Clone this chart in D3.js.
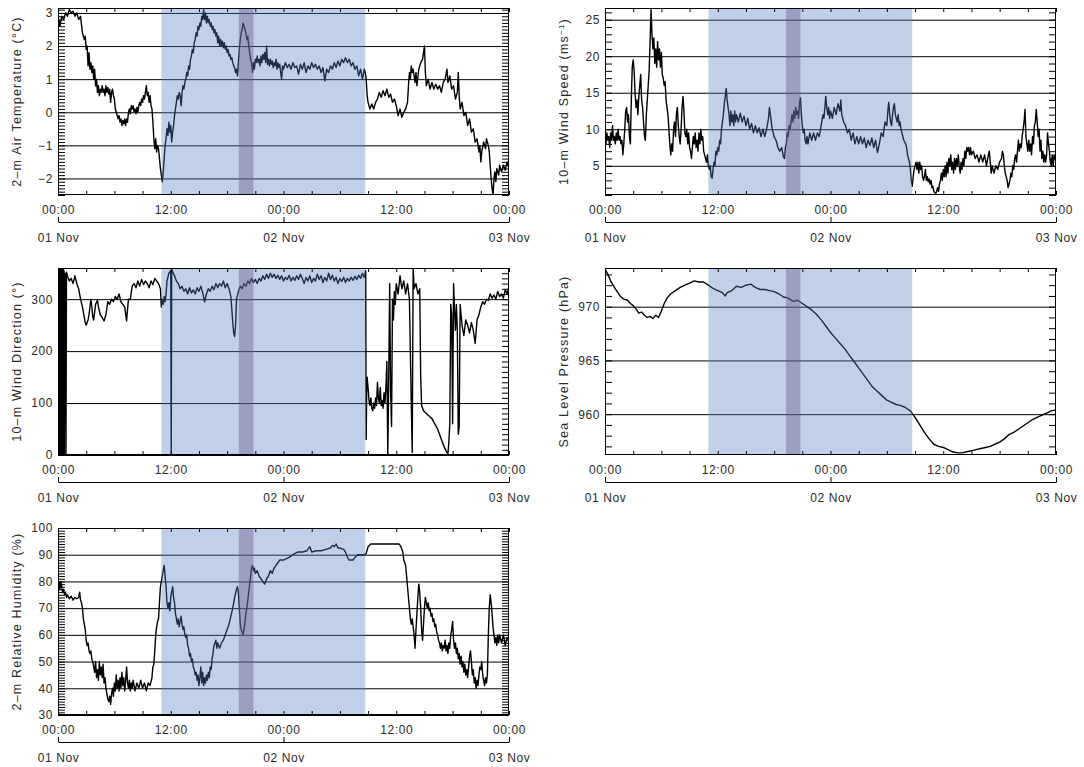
<!DOCTYPE html>
<html><head><meta charset="utf-8">
<script src="https://cdn.jsdelivr.net/npm/d3@7"></script>
<style>
body{margin:0;background:#fff}
text{font-family:"Liberation Sans",Arial,sans-serif;fill:#2a2a2a}
</style>
</head><body><svg id="c" width="1084" height="767"></svg>
<script>
// ---------------- data (hours since 01 Nov 00:00, value) ----------------
const timeTickLabels = ["00:00","12:00","00:00","12:00","00:00"];
const timeTickHours = [0,12,24,36,48];
const dateTickLabels = ["01 Nov","02 Nov","03 Nov"];
const dateTickHours = [0,24,48];
const shadeHours = [11.0, 32.7];
const darkHours = [19.25, 20.8];

const tempTicks = [-2,-1,0,1,2,3];
const windTicks = [5,10,15,20,25];
const dirTicks = [0,100,200,300];
const presTicks = [960,965,970];
const rhTicks = [30,40,50,60,70,80,90,100];

const tempDomain = [-2.5, 3.15];
const windDomain = [1.0, 26.6];
const dirDomain = [0, 360];
const presDomain = [956.2, 973.6];
const rhDomain = [30, 100];

const tempData = [[0,2.5],[0.1,2.8],[0.2,2.6],[0.4,2.9],[0.6,2.8],[0.8,3.0],[1.0,2.9],[1.2,3.1],[1.4,3.0],[1.6,3.05],[1.8,2.9],[2.0,3.0],[2.2,2.8],[2.4,2.9],[2.6,2.4],[2.8,2.2],[2.9,2.3],[3.0,1.9],[3.1,2.0],[3.2,1.4],[3.3,1.8],[3.4,1.3],[3.5,1.5],[3.6,1.2],[3.7,1.4],[3.8,1.0],[3.9,1.3],[4.0,0.8],[4.1,1.0],[4.2,0.6],[4.3,0.8],[4.4,0.5],[4.5,0.7],[4.6,0.6],[4.7,0.8],[4.8,0.6],[4.9,0.7],[5.0,0.5],[5.1,0.8],[5.2,0.6],[5.3,0.75],[5.4,0.55],[5.5,0.7],[5.6,0.3],[5.7,0.6],[5.8,0.7],[5.9,0.5],[6.0,0.4],[6.1,0.1],[6.2,0.0],[6.3,-0.1],[6.4,-0.2],[6.5,-0.1],[6.6,-0.3],[6.7,-0.2],[6.8,-0.4],[6.9,-0.25],[7.0,-0.35],[7.1,-0.2],[7.2,-0.4],[7.3,-0.2],[7.4,-0.3],[7.5,0.0],[7.6,0.1],[7.7,-0.05],[7.8,0.2],[7.9,0.1],[8.0,0.2],[8.1,0.0],[8.2,0.1],[8.3,-0.05],[8.4,0.15],[8.5,0.0],[8.6,0.2],[8.7,0.3],[8.8,0.2],[8.9,0.4],[9.0,0.3],[9.1,0.5],[9.2,0.4],[9.3,0.6],[9.4,0.8],[9.5,0.5],[9.6,0.6],[9.7,0.3],[9.8,0.5],[9.9,0.2],[10.0,0.1],[10.1,-0.3],[10.2,-0.8],[10.3,-1.1],[10.4,-0.8],[10.5,-1.2],[10.6,-1.0],[10.7,-1.1],[10.8,-1.4],[10.9,-1.7],[11.0,-1.9],[11.1,-2.1],[11.2,-1.8],[11.3,-1.4],[11.4,-1.0],[11.5,-0.8],[11.6,-0.5],[11.7,-0.7],[11.8,-0.3],[11.9,-0.6],[12.0,-0.4],[12.1,-0.9],[12.2,-0.6],[12.3,-0.4],[12.4,-0.1],[12.5,0.1],[12.6,0.3],[12.7,0.5],[12.8,0.4],[12.9,0.6],[13.0,0.5],[13.1,0.2],[13.2,0.6],[13.3,0.8],[13.4,0.7],[13.5,0.9],[13.6,1.0],[13.7,1.2],[13.8,1.1],[13.9,1.4],[14.0,1.3],[14.1,1.6],[14.2,1.7],[14.3,1.9],[14.4,1.8],[14.5,2.1],[14.6,2.2],[14.7,2.4],[14.8,2.3],[14.9,2.6],[15.0,2.5],[15.1,2.7],[15.2,2.6],[15.3,2.9],[15.4,2.8],[15.5,3.1],[15.6,2.8],[15.7,3.0],[15.8,2.7],[15.9,2.9],[16.0,2.7],[16.1,2.8],[16.2,2.6],[16.3,2.7],[16.4,2.5],[16.5,2.6],[16.6,2.4],[16.7,2.5],[16.8,2.3],[16.9,2.4],[17.0,2.1],[17.1,2.3],[17.2,2.0],[17.3,2.2],[17.4,2.0],[17.5,2.15],[17.6,1.95],[17.7,2.1],[17.8,1.9],[17.9,2.0],[18.0,1.8],[18.1,1.9],[18.2,1.7],[18.3,1.75],[18.4,1.6],[18.5,1.65],[18.6,1.5],[18.7,1.4],[18.8,1.35],[18.9,1.2],[19.0,1.3],[19.1,1.1],[19.2,1.5],[19.3,1.9],[19.4,2.2],[19.5,2.4],[19.6,2.5],[19.7,2.7],[19.8,2.6],[19.9,2.5],[20.0,2.4],[20.1,2.2],[20.2,2.3],[20.3,2.0],[20.4,1.8],[20.5,1.6],[20.6,1.5],[20.7,1.2],[20.8,1.5],[20.9,1.3],[21.0,1.6],[21.1,1.5],[21.2,1.7],[21.3,1.5],[21.4,1.6],[21.5,1.4],[21.6,1.7],[21.7,1.5],[21.8,1.75],[21.9,1.6],[22.0,1.8],[22.1,1.5],[22.2,2.0],[22.3,1.45],[22.4,1.6],[22.5,1.4],[22.6,1.6],[22.7,1.45],[22.8,1.55],[22.9,1.35],[23.0,1.5],[23.1,1.4],[23.2,1.6],[23.3,1.3],[23.4,1.5],[23.5,1.35],[23.6,1.45],[23.7,1.2],[23.8,1.0],[23.9,1.4],[24.0,1.3],[24.2,1.5],[24.4,1.35],[24.6,1.45],[24.8,1.3],[25.0,1.5],[25.2,1.35],[25.4,1.4],[25.6,1.15],[25.8,1.45],[26.0,1.3],[26.2,1.5],[26.4,1.2],[26.6,1.4],[26.8,1.3],[27.0,1.5],[27.2,1.35],[27.4,1.45],[27.6,1.3],[27.8,1.4],[28.0,1.2],[28.2,1.35],[28.4,0.95],[28.6,1.3],[28.8,1.2],[29.0,1.4],[29.2,1.3],[29.4,1.5],[29.6,1.35],[29.8,1.55],[30.0,1.4],[30.2,1.6],[30.4,1.5],[30.6,1.65],[30.8,1.5],[31.0,1.6],[31.2,1.4],[31.4,1.5],[31.6,1.3],[31.8,1.4],[32.0,1.1],[32.2,1.3],[32.4,1.0],[32.6,1.3],[32.7,1.2],[32.8,1.0],[32.9,0.5],[33.0,0.3],[33.2,0.1],[33.4,0.25],[33.6,0.1],[33.8,0.3],[34.0,0.4],[34.2,0.6],[34.4,0.45],[34.6,0.65],[34.8,0.5],[35.0,0.7],[35.2,0.45],[35.4,0.55],[35.6,0.3],[35.8,0.4],[36.0,0.2],[36.2,-0.1],[36.4,0.1],[36.6,-0.15],[36.8,0.0],[37.0,0.1],[37.2,0.3],[37.3,0.8],[37.4,1.2],[37.5,1.0],[37.6,1.4],[37.7,1.2],[37.8,1.3],[38.0,0.9],[38.1,1.2],[38.2,0.8],[38.4,1.3],[38.6,1.5],[38.8,1.6],[38.9,1.8],[39.0,2.0],[39.1,1.2],[39.2,0.8],[39.4,1.0],[39.6,0.7],[39.8,0.9],[40.0,0.7],[40.2,0.85],[40.4,0.7],[40.6,0.8],[40.8,0.6],[41.0,0.9],[41.2,1.0],[41.4,1.3],[41.5,0.9],[41.7,1.1],[41.9,0.7],[42.1,0.8],[42.3,0.4],[42.5,0.6],[42.6,1.2],[42.7,0.5],[42.8,0.1],[43.0,0.3],[43.2,-0.1],[43.4,0.0],[43.6,-0.4],[43.8,-0.2],[44.0,-0.6],[44.2,-0.5],[44.4,-0.9],[44.6,-0.8],[44.8,-1.2],[44.9,-1.0],[45.0,-1.5],[45.1,-1.2],[45.3,-0.9],[45.5,-1.1],[45.6,-0.8],[45.8,-1.0],[45.9,-1.2],[46.0,-1.6],[46.1,-2.0],[46.2,-2.3],[46.3,-2.5],[46.4,-2.0],[46.5,-1.8],[46.6,-2.1],[46.7,-1.7],[46.9,-1.9],[47.0,-1.6],[47.2,-1.8],[47.4,-1.6],[47.6,-1.75],[47.8,-1.5],[48.0,-1.7]];

const windData = [[0,9],[0.1,8],[0.2,9.5],[0.3,8.5],[0.4,9],[0.5,7.5],[0.6,9.5],[0.7,8.5],[0.8,10.5],[0.9,8.5],[1.0,9],[1.1,8],[1.2,9.5],[1.3,8.5],[1.4,10],[1.5,8.5],[1.6,9],[1.7,8],[1.8,8.5],[1.9,6.5],[2.0,8],[2.1,10],[2.2,12.5],[2.3,13],[2.4,11],[2.5,12],[2.6,9],[2.7,8],[2.8,14],[2.9,18.5],[3.0,19.5],[3.1,18],[3.2,15],[3.3,13],[3.4,14],[3.5,12],[3.6,14.5],[3.7,16],[3.8,17.5],[3.9,14],[4.0,13],[4.1,11],[4.2,9],[4.3,8.5],[4.4,12],[4.5,14],[4.6,16],[4.7,18],[4.8,22],[4.9,26.4],[5.0,23],[5.1,21],[5.2,22.5],[5.3,19],[5.4,21],[5.5,18.5],[5.6,22],[5.7,19.5],[5.8,21],[5.9,18.5],[6.0,20.5],[6.1,17.5],[6.2,17],[6.3,16],[6.4,16.5],[6.5,14],[6.6,13],[6.7,12],[6.8,10],[6.9,8],[7.0,6.5],[7.1,8],[7.2,7],[7.3,10],[7.4,11],[7.5,9],[7.6,12],[7.7,13],[7.8,10.5],[7.9,9],[8.0,8],[8.1,10],[8.2,13],[8.3,14.5],[8.4,12.5],[8.5,9.5],[8.6,9],[8.7,10],[8.8,8],[8.9,9.5],[9.0,7.5],[9.1,7],[9.2,6],[9.3,7.5],[9.4,9],[9.5,8],[9.6,9.5],[9.7,7.5],[9.8,8.5],[9.9,7],[10.0,9.5],[10.1,8],[10.2,10],[10.3,8.5],[10.4,9],[10.5,7],[10.6,6.5],[10.7,6],[10.8,5.5],[10.9,6.5],[11.0,5],[11.1,4.5],[11.2,5],[11.3,3.5],[11.4,3.3],[11.5,4.5],[11.6,5.5],[11.7,5],[11.8,7],[11.9,6.5],[12.0,7.5],[12.1,7],[12.2,8.5],[12.3,8],[12.4,10],[12.5,11],[12.6,12],[12.7,13.5],[12.8,14.5],[12.9,15.6],[13.0,14],[13.1,13],[13.2,12],[13.3,10.5],[13.4,12.5],[13.5,11],[13.6,12],[13.7,10.5],[13.8,12.5],[13.9,11],[14.0,12],[14.2,11],[14.4,12.2],[14.6,11],[14.8,11.8],[15.0,10.5],[15.2,11.5],[15.4,10],[15.6,10.8],[15.8,9.5],[16.0,10.5],[16.2,9.5],[16.4,10.2],[16.6,9],[16.8,10],[17.0,9],[17.2,10],[17.4,11.5],[17.5,13],[17.6,12],[17.7,11],[17.8,10],[17.9,9.5],[18.0,9],[18.2,8.5],[18.4,7.5],[18.6,7],[18.8,7.5],[19.0,6.2],[19.1,6],[19.2,7.5],[19.3,8],[19.4,9.5],[19.5,9],[19.6,10.5],[19.7,10],[19.8,11],[19.9,12],[20.0,11],[20.1,12.5],[20.2,11.5],[20.3,13],[20.4,12],[20.5,12.5],[20.6,11.5],[20.7,13.5],[20.8,14.3],[20.9,12],[21.0,10.5],[21.1,9.5],[21.2,10],[21.3,8.5],[21.4,8],[21.5,9],[21.6,8],[21.8,9.5],[22.0,8.5],[22.2,9.5],[22.4,8.5],[22.6,9.5],[22.8,9],[23.0,10.5],[23.2,12],[23.3,11.5],[23.4,13],[23.5,14.5],[23.6,13],[23.7,12],[23.8,13],[23.9,11.5],[24.0,12.5],[24.2,11.5],[24.4,13],[24.6,12],[24.8,13.5],[25.0,12.5],[25.1,14],[25.2,12],[25.4,11],[25.6,10.5],[25.8,9.5],[26.0,10],[26.2,8.5],[26.4,9.5],[26.6,8],[26.8,9],[27.0,8],[27.2,9],[27.4,8],[27.6,8.8],[27.8,7.5],[28.0,8.5],[28.2,7.8],[28.4,8.8],[28.6,7.5],[28.8,8.5],[29.0,6.8],[29.2,8],[29.4,9.5],[29.6,9],[29.8,11],[30.0,10.5],[30.1,12.5],[30.2,13.7],[30.3,12],[30.4,11],[30.5,10.5],[30.6,12],[30.7,13],[30.8,13.5],[30.9,12],[31.0,11.5],[31.1,11],[31.2,12],[31.3,10.5],[31.4,11],[31.5,10],[31.6,9.5],[31.8,8.5],[32.0,8],[32.1,7.5],[32.2,6.5],[32.3,6],[32.4,5.5],[32.5,4.5],[32.6,3],[32.7,2.2],[32.8,3.5],[32.9,4.5],[33.0,5],[33.1,5.5],[33.2,4.5],[33.3,5.5],[33.4,4],[33.5,5.5],[33.6,4.5],[33.7,5],[33.8,3.5],[33.9,3],[34.0,3.5],[34.1,4.5],[34.2,3],[34.3,3.5],[34.4,2.8],[34.5,3.2],[34.6,2.5],[34.7,3],[34.8,2],[34.9,2.2],[35.0,1.5],[35.1,1.3],[35.2,1.2],[35.3,1.5],[35.4,2],[35.5,1.5],[35.6,2.5],[35.7,3],[35.8,4],[35.9,3],[36.0,4.5],[36.1,3.5],[36.2,5],[36.3,3.5],[36.4,5.5],[36.5,4],[36.6,6],[36.7,5],[36.8,6.5],[36.9,4.5],[37.0,5.5],[37.1,4],[37.2,6],[37.3,4.5],[37.4,6],[37.5,5],[37.6,6.5],[37.7,5],[37.8,4],[37.9,5.5],[38.0,4.5],[38.1,6],[38.2,5],[38.3,7],[38.4,6],[38.5,7.5],[38.6,7],[38.7,7.5],[38.8,6.5],[38.9,7.5],[39.0,6.5],[39.2,7],[39.4,6],[39.6,6.5],[39.8,5.5],[40.0,6.5],[40.2,5.5],[40.4,6.5],[40.6,5],[40.8,6.5],[40.9,7],[41.0,5.5],[41.1,4],[41.2,5],[41.4,4],[41.6,5],[41.8,4.5],[42.0,5.5],[42.2,6],[42.3,7],[42.4,6.5],[42.5,5],[42.6,4],[42.7,3.5],[42.8,3],[42.9,2],[43.0,2.5],[43.1,3],[43.2,4],[43.3,3.5],[43.4,5],[43.5,4.5],[43.6,6],[43.7,6.5],[43.8,5.5],[43.9,7],[44.0,8.5],[44.1,7],[44.2,8],[44.3,7.5],[44.4,9],[44.5,10],[44.6,11],[44.7,12.7],[44.8,9],[44.9,8],[45.0,7],[45.1,8.5],[45.2,7],[45.3,8],[45.4,6.5],[45.5,9],[45.6,8],[45.7,10.5],[45.8,11],[45.9,12.7],[46.0,11],[46.1,9],[46.2,10],[46.3,7],[46.4,8.5],[46.5,6],[46.6,7],[46.7,5.5],[46.8,6.5],[46.9,5.5],[47.0,6.5],[47.1,9.5],[47.2,8],[47.3,7],[47.4,5.5],[47.5,5],[47.6,6.5],[47.7,5],[47.8,6.5],[47.9,6],[48.0,7]];

const dirData = [[0,360],[0.04,0],[0.08,360],[0.12,0],[0.16,358],[0.2,0],[0.24,360],[0.28,0],[0.32,355],[0.36,0],[0.4,360],[0.44,0],[0.48,358],[0.52,0],[0.56,360],[0.6,0],[0.64,355],[0.68,0],[0.72,350],[0.8,345],[0.85,0],[0.9,352],[1.0,345],[1.2,335],[1.4,340],[1.6,330],[1.8,345],[2.0,330],[2.2,320],[2.4,300],[2.6,285],[2.8,265],[2.9,255],[3.0,250],[3.2,260],[3.3,270],[3.5,300],[3.6,285],[3.7,265],[3.8,260],[4.0,290],[4.2,298],[4.3,285],[4.5,270],[4.7,265],[4.9,258],[5.1,270],[5.3,295],[5.5,290],[5.7,300],[5.9,295],[6.1,305],[6.3,300],[6.5,310],[6.7,295],[6.9,290],[7.1,285],[7.3,258],[7.4,280],[7.5,300],[7.7,300],[7.9,325],[8.1,330],[8.3,322],[8.5,335],[8.7,325],[8.9,338],[9.1,328],[9.3,335],[9.5,330],[9.7,322],[9.9,335],[10.1,328],[10.3,340],[10.5,335],[10.7,330],[10.9,320],[11.0,285],[11.1,300],[11.2,290],[11.3,305],[11.4,295],[11.5,310],[11.6,335],[11.8,350],[12.0,355],[12.05,0],[12.1,360],[12.2,352],[12.4,345],[12.6,335],[12.8,330],[13.0,320],[13.2,325],[13.4,315],[13.6,320],[13.8,310],[14.0,322],[14.2,312],[14.4,318],[14.6,310],[14.8,322],[15.0,315],[15.2,325],[15.4,312],[15.6,295],[15.8,310],[16.0,320],[16.2,315],[16.4,325],[16.6,318],[16.8,330],[17.0,322],[17.2,330],[17.4,325],[17.6,335],[17.8,322],[18.0,330],[18.2,320],[18.4,305],[18.5,280],[18.6,255],[18.7,235],[18.8,228],[18.9,250],[19.0,300],[19.2,315],[19.4,325],[19.6,320],[19.8,330],[20.0,325],[20.2,335],[20.4,330],[20.6,340],[20.8,332],[21.0,338],[21.2,330],[21.4,340],[21.6,335],[21.8,345],[22.0,338],[22.2,348],[22.4,340],[22.6,350],[22.8,342],[23.0,348],[23.2,340],[23.4,346],[23.6,338],[23.8,345],[24.0,335],[24.2,342],[24.4,338],[24.6,346],[24.8,335],[25.0,342],[25.2,336],[25.4,345],[25.6,338],[25.8,348],[26.0,340],[26.2,330],[26.4,342],[26.6,335],[26.8,345],[27.0,332],[27.2,340],[27.4,335],[27.6,348],[27.8,338],[28.0,345],[28.2,332],[28.4,342],[28.6,335],[28.8,350],[29.0,338],[29.2,346],[29.4,335],[29.6,342],[29.8,330],[30.0,340],[30.2,334],[30.4,342],[30.6,332],[30.8,340],[31.0,335],[31.2,342],[31.4,336],[31.6,344],[31.8,338],[32.0,346],[32.2,340],[32.4,350],[32.6,342],[32.75,355],[32.8,30],[32.85,120],[32.9,150],[33.0,130],[33.1,105],[33.2,95],[33.3,110],[33.4,90],[33.5,85],[33.6,100],[33.7,90],[33.8,110],[33.9,95],[34.0,140],[34.1,110],[34.2,100],[34.3,130],[34.4,95],[34.5,105],[34.6,90],[34.7,120],[34.8,100],[34.9,130],[35.0,180],[35.1,0],[35.2,150],[35.3,330],[35.4,120],[35.5,55],[35.6,300],[35.7,260],[35.8,315],[35.9,290],[36.0,330],[36.2,310],[36.4,345],[36.6,320],[36.8,335],[37.0,310],[37.2,330],[37.4,300],[37.5,200],[37.6,100],[37.7,5],[37.8,360],[37.9,320],[38.1,330],[38.3,310],[38.5,320],[38.6,150],[38.7,95],[38.9,85],[39.2,80],[39.5,75],[39.8,70],[40.1,60],[40.4,50],[40.7,35],[41.0,20],[41.3,8],[41.5,2],[41.6,25],[41.7,60],[41.8,290],[41.9,270],[42.0,60],[42.1,330],[42.2,280],[42.3,240],[42.4,290],[42.5,240],[42.6,40],[42.7,55],[42.8,290],[42.9,270],[43.0,250],[43.2,230],[43.4,260],[43.6,250],[43.8,235],[44.0,255],[44.2,240],[44.4,215],[44.6,260],[44.8,270],[45.0,285],[45.2,295],[45.4,290],[45.6,300],[45.8,298],[46.0,310],[46.2,302],[46.4,308],[46.6,300],[46.8,315],[47.0,305],[47.2,310],[47.4,302],[47.6,318],[47.8,310],[48.0,325]];

const presData = [[0,973.5],[0.3,973.0],[0.6,972.4],[1.0,971.8],[1.3,971.4],[1.6,971.0],[2.0,970.7],[2.4,970.6],[2.7,970.3],[3.0,970.1],[3.3,969.8],[3.6,969.4],[3.9,969.5],[4.2,969.2],[4.5,969.0],[4.8,969.1],[5.1,968.9],[5.4,969.2],[5.7,969.0],[6.0,969.6],[6.3,970.3],[6.6,970.8],[7.0,971.2],[7.5,971.5],[8.0,971.8],[8.5,972.0],[9.0,972.2],[9.5,972.4],[10.0,972.3],[10.5,972.3],[11.0,972.0],[11.5,971.7],[12.0,971.5],[12.5,971.3],[12.8,971.0],[13.0,971.3],[13.5,971.5],[14.0,971.9],[14.5,971.8],[15.0,972.0],[15.5,972.1],[16.0,971.8],[16.5,971.6],[17.0,971.6],[17.5,971.5],[18.0,971.4],[18.5,971.2],[19.0,970.9],[19.5,970.8],[20.0,970.5],[20.5,970.6],[21.0,970.3],[21.5,970.0],[22.0,969.7],[22.5,969.3],[23.0,968.8],[23.5,968.2],[24.0,967.6],[24.5,967.1],[25.0,966.6],[25.5,966.1],[26.0,965.5],[26.5,964.9],[27.0,964.3],[27.5,963.7],[28.0,963.1],[28.5,962.5],[29.0,962.1],[29.5,961.7],[30.0,961.3],[30.5,961.1],[31.0,960.9],[31.5,960.8],[32.0,960.6],[32.5,960.3],[33.0,959.7],[33.5,959.0],[34.0,958.3],[34.5,957.7],[35.0,957.2],[35.5,957.0],[36.0,956.9],[36.5,956.7],[37.0,956.5],[37.5,956.4],[38.0,956.4],[38.5,956.5],[39.0,956.6],[39.5,956.7],[40.0,956.8],[40.5,956.9],[41.0,957.0],[41.5,957.2],[42.0,957.4],[42.5,957.7],[43.0,958.1],[43.5,958.3],[44.0,958.6],[44.5,958.9],[45.0,959.2],[45.5,959.5],[46.0,959.7],[46.5,959.9],[47.0,960.1],[47.5,960.3],[48.0,960.4]];

const rhData = [[0,78],[0.1,80],[0.2,77],[0.3,80],[0.4,78],[0.5,76],[0.6,77],[0.7,75],[0.8,76],[0.9,74],[1.0,75],[1.2,73.5],[1.4,74.5],[1.6,73],[1.8,74],[2.0,73.5],[2.2,74],[2.3,76],[2.4,73],[2.5,72],[2.6,70],[2.7,66],[2.8,64],[2.9,62],[3.0,58],[3.1,56],[3.2,57],[3.3,54],[3.4,53],[3.5,54],[3.6,51],[3.7,50],[3.8,48],[3.9,46],[4.0,50],[4.1,44],[4.2,47],[4.3,43],[4.4,50],[4.5,45],[4.6,48],[4.7,44],[4.8,49],[4.9,42],[5.0,44],[5.1,40],[5.2,38],[5.3,36],[5.4,35],[5.5,37],[5.6,34],[5.7,38],[5.8,40],[5.9,37],[6.0,42],[6.1,39],[6.2,45],[6.3,40],[6.4,43],[6.5,39],[6.6,44],[6.7,40],[6.8,46],[6.9,41],[7.0,44],[7.1,39],[7.2,43],[7.3,48],[7.4,42],[7.5,40],[7.6,43],[7.7,39],[7.8,42],[7.9,40],[8.0,43],[8.2,39],[8.4,42],[8.6,40],[8.8,43],[9.0,40],[9.2,42],[9.4,39],[9.6,42],[9.8,41],[10.0,44],[10.1,48],[10.2,49],[10.3,54],[10.4,60],[10.5,63],[10.6,65],[10.7,66],[10.8,72],[10.9,78],[11.0,80],[11.1,82],[11.2,84],[11.3,86],[11.4,82],[11.5,78],[11.6,72],[11.7,70],[11.8,72],[11.9,69],[12.0,74],[12.1,76],[12.2,78],[12.3,74],[12.4,72],[12.5,68],[12.6,66],[12.7,64],[12.8,66],[12.9,63],[13.0,65],[13.1,67],[13.2,64],[13.3,62],[13.4,63],[13.5,60],[13.6,59],[13.7,60],[13.8,56],[13.9,55],[14.0,52],[14.1,53],[14.2,50],[14.3,51],[14.4,48],[14.5,47],[14.6,45],[14.7,46],[14.8,43],[14.9,45],[15.0,41],[15.1,44],[15.2,48],[15.3,42],[15.4,46],[15.5,41],[15.6,44],[15.7,42],[15.8,45],[15.9,43],[16.0,46],[16.1,44],[16.2,48],[16.3,47],[16.4,51],[16.5,53],[16.6,56],[16.7,57],[16.8,58],[16.9,55],[17.0,57],[17.2,55],[17.4,57],[17.6,58],[17.8,60],[18.0,62],[18.2,64],[18.4,67],[18.6,70],[18.8,74],[19.0,77],[19.1,78],[19.2,76],[19.3,70],[19.4,64],[19.5,62],[19.6,61],[19.7,60],[19.8,62],[19.9,65],[20.0,68],[20.1,70],[20.2,73],[20.3,76],[20.4,79],[20.5,82],[20.6,85],[20.7,86],[20.8,84],[20.9,85],[21.0,83],[21.2,84],[21.4,82],[21.6,81],[21.8,80],[22.0,79],[22.2,81],[22.4,82],[22.6,84],[22.8,83],[23.0,85],[23.2,86],[23.4,87],[23.6,88],[23.8,88],[24.0,88],[24.3,88.5],[24.6,89],[25.0,90],[25.5,91],[26.0,91],[26.5,91.5],[26.8,93],[27.0,91],[27.5,91.5],[28.0,91.5],[28.5,92],[29.0,92.5],[29.2,93.5],[29.4,93],[29.6,94],[29.8,92.5],[30.0,92.5],[30.4,92],[30.6,91],[30.8,89],[31.0,88],[31.4,88],[31.6,89],[31.9,90],[32.2,90],[32.6,90],[32.8,90.5],[33.0,93],[33.3,94],[33.6,94],[34.0,94],[34.5,94],[35.0,94],[35.5,94],[36.0,94],[36.3,94],[36.5,93],[36.7,91],[36.8,88],[37.0,86],[37.1,82],[37.2,78],[37.3,74],[37.4,70],[37.5,66],[37.6,64],[37.7,66],[37.8,63],[37.9,60],[38.0,55],[38.1,62],[38.2,68],[38.3,74],[38.4,79],[38.5,76],[38.6,70],[38.7,62],[38.8,58],[38.9,64],[39.0,70],[39.1,74],[39.2,72],[39.3,70],[39.4,72],[39.5,69],[39.6,70],[39.7,67],[39.8,68],[39.9,65],[40.0,66],[40.1,63],[40.2,64],[40.3,61],[40.4,60],[40.5,58],[40.6,57],[40.7,55],[40.8,57],[40.9,54],[41.0,56],[41.1,55],[41.2,58],[41.3,54],[41.4,56],[41.5,53],[41.6,57],[41.7,55],[41.8,60],[41.9,62],[42.0,65],[42.1,58],[42.2,55],[42.3,57],[42.4,53],[42.5,55],[42.6,51],[42.7,53],[42.8,49],[42.9,52],[43.0,48],[43.1,50],[43.2,46],[43.3,49],[43.4,45],[43.5,47],[43.6,44],[43.7,48],[43.8,52],[43.9,54],[44.0,50],[44.1,45],[44.2,47],[44.3,42],[44.4,44],[44.5,40],[44.6,43],[44.7,41],[44.8,45],[44.9,48],[45.0,47],[45.1,50],[45.2,45],[45.3,43],[45.4,41],[45.5,44],[45.6,42],[45.7,45],[45.8,60],[45.9,70],[46.0,75],[46.1,72],[46.2,68],[46.3,63],[46.4,60],[46.5,57],[46.6,59],[46.7,56],[46.8,60],[46.9,57],[47.0,60],[47.2,57],[47.4,60],[47.6,56],[47.8,59],[48.0,58]];

// ---------------- layout ----------------
const W = 451, H = 187;
const colX = [58, 605];
const rowY = [8, 268, 528];
const FONT = "'Liberation Sans', Arial, sans-serif";

const panels = [
  {data: tempData, domain: tempDomain, ticks: tempTicks, minor: 0.1, col: 0, row: 0,
   title: ["2–m Air Temperature (°C)"]},
  {data: windData, domain: windDomain, ticks: windTicks, minor: 1, col: 1, row: 0,
   title: ["10–m Wind Speed (ms", "−1", ")"]},
  {data: dirData, domain: dirDomain, ticks: dirTicks, minor: 10, col: 0, row: 1,
   title: ["10–m Wind Direction (°)"]},
  {data: presData, domain: presDomain, ticks: presTicks, minor: 1, col: 1, row: 1,
   title: ["Sea Level Pressure (hPa)"]},
  {data: rhData, domain: rhDomain, ticks: rhTicks, minor: 1, col: 0, row: 2,
   title: ["2–m Relative Humidity (%)"]}
];

const svg = d3.select("#c");
const x = d3.scaleLinear().domain([0, 48]).range([0, W]);
const fmtNum = d => (d < 0 ? "−" + Math.abs(d) : String(d));
const styleText = sel => sel.attr("font-size", 12).attr("fill", "#2a2a2a")
  .attr("font-family", FONT).attr("letter-spacing", "0.6px");

panels.forEach((p, i) => {
  const g = svg.append("g").attr("transform", `translate(${colX[p.col]},${rowY[p.row]})`);
  const y = d3.scaleLinear().domain(p.domain).range([H, 0]);

  g.append("clipPath").attr("id", "clip" + i)
    .append("rect").attr("width", W).attr("height", H);

  // data line
  g.append("path")
    .datum(p.data)
    .attr("clip-path", `url(#clip${i})`)
    .attr("fill", "none")
    .attr("stroke", "#000")
    .attr("stroke-width", 1.4)
    .attr("stroke-linejoin", "round")
    .attr("d", d3.line().x(d => x(d[0])).y(d => y(d[1])));

  // gridlines
  const grid = g.append("g").call(d3.axisLeft(y).tickValues(p.ticks).tickSize(-W).tickFormat(""));
  grid.select(".domain").remove();
  grid.selectAll("line").attr("stroke", "#000");

  // shading overlays
  g.append("rect")
    .attr("x", x(shadeHours[0])).attr("width", x(shadeHours[1]) - x(shadeHours[0]))
    .attr("y", 0).attr("height", H)
    .attr("fill", "rgb(80,125,190)").attr("fill-opacity", 0.36);
  g.append("rect")
    .attr("x", x(darkHours[0])).attr("width", x(darkHours[1]) - x(darkHours[0]))
    .attr("y", 0).attr("height", H)
    .attr("fill", "rgb(105,90,140)").attr("fill-opacity", 0.42);

  // minor y ticks left & right
  const eps = 1e-6;
  const minorVals = d3.range(Math.ceil(p.domain[0] / p.minor - eps), Math.floor(p.domain[1] / p.minor + eps) + 1)
    .map(k => +(k * p.minor).toFixed(4));
  const yl = g.append("g").call(d3.axisLeft(y).tickValues(minorVals).tickSize(-7).tickFormat(""));
  yl.select(".domain").remove();
  const yr = g.append("g").attr("transform", `translate(${W},0)`)
    .call(d3.axisRight(y).tickValues(minorVals).tickSize(-7).tickFormat(""));
  yr.select(".domain").remove();

  // y tick labels
  const ylab = g.append("g").call(d3.axisLeft(y).tickValues(p.ticks).tickSize(0).tickPadding(5).tickFormat(fmtNum));
  ylab.select(".domain").remove();
  styleText(ylab.selectAll("text"));

  // x ticks top and bottom (every 3 h)
  const hourTicks = d3.range(0, 49, 3);
  const xt = g.append("g").call(d3.axisBottom(x).tickValues(hourTicks).tickSize(4).tickFormat(""));
  xt.select(".domain").remove();
  const xb = g.append("g").attr("transform", `translate(0,${H})`)
    .call(d3.axisTop(x).tickValues(hourTicks).tickSize(4).tickFormat(""));
  xb.select(".domain").remove();

  // time labels
  const tl = g.append("g").attr("transform", `translate(0,${H})`)
    .call(d3.axisBottom(x).tickValues(timeTickHours).tickSize(0).tickPadding(10)
      .tickFormat((d, k) => timeTickLabels[k]));
  tl.select(".domain").remove();
  styleText(tl.selectAll("text"));

  // date axis
  const da = g.append("g").attr("transform", `translate(0,${H + 27})`)
    .call(d3.axisTop(x).tickValues(dateTickHours).tickSize(5).tickSizeOuter(0).tickFormat(""));
  da.select(".domain").attr("stroke", "#000");
  const dl = g.append("g").attr("transform", `translate(0,${H + 27})`)
    .call(d3.axisBottom(x).tickValues(dateTickHours).tickSize(0).tickPadding(11)
      .tickFormat((d, k) => dateTickLabels[k]));
  dl.select(".domain").remove();
  styleText(dl.selectAll("text"));

  // frame
  g.append("rect").attr("x", 0.5).attr("y", 0.5).attr("width", W - 1).attr("height", H - 1)
    .attr("fill", "none").attr("stroke", "#000").attr("stroke-width", 1);

  // y title
  const t = g.append("text")
    .attr("transform", `translate(${-37},${H / 2}) rotate(-90)`)
    .attr("text-anchor", "middle")
    .attr("font-family", FONT)
    .attr("fill", "#2a2a2a")
    .attr("letter-spacing", "1.2px")
    .attr("font-size", 12.5);
  t.append("tspan").text(p.title[0]);
  if (p.title.length > 1) {
    t.append("tspan").attr("baseline-shift", "super").attr("font-size", 8).text(p.title[1]);
    t.append("tspan").text(p.title[2]);
  }
});
</script>
</body></html>
